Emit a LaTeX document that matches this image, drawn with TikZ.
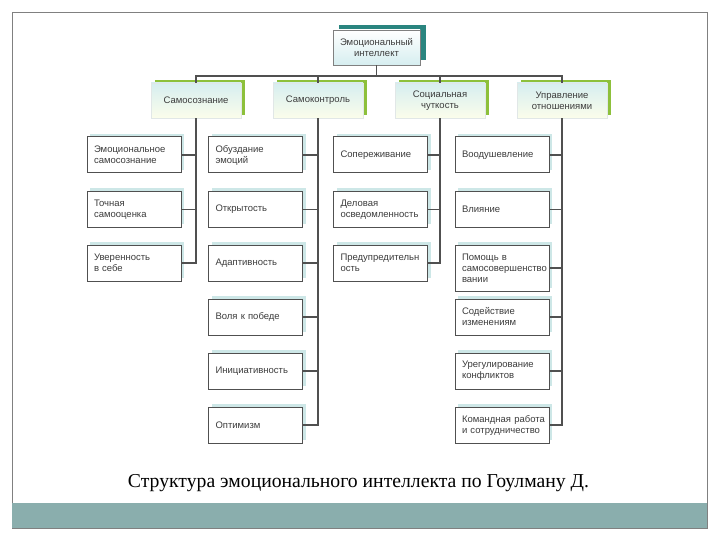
\documentclass[tikz,border=0pt]{standalone}
\usepackage{fontspec}
\setmainfont{Liberation Serif}
\newfontfamily\boxfont{Liberation Sans}
\usetikzlibrary{shadows}

\definecolor{linegray}{HTML}{505050}
\definecolor{framegray}{HTML}{808080}
\definecolor{bandteal}{HTML}{8AAEAD}
\definecolor{darkteal}{HTML}{2A857F}
\definecolor{leafgreen}{HTML}{8DC03B}
\definecolor{paleteal}{HTML}{CDE7E7}
\definecolor{paleblue}{HTML}{D6EEF0}
\definecolor{palecream}{HTML}{FBFDEB}
\definecolor{textgray}{HTML}{3C3C3C}

\tikzset{
  headbox/.style={draw=framegray, line width=0.8pt, top color=white, bottom color=paleblue,
    minimum width=87pt, minimum height=35pt, align=center, text=textgray,
    font=\boxfont\fontsize{9.5}{11}\selectfont,
    general shadow={fill=darkteal, shadow xshift=6pt, shadow yshift=5pt}},
  groupbox/.style={draw=paleblue!60!gray!40, line width=0.4pt, top color=paleblue, bottom color=palecream,
    minimum width=90pt, minimum height=35pt, align=center, text=textgray,
    font=\boxfont\fontsize{9.5}{11}\selectfont,
    general shadow={fill=leafgreen, shadow xshift=4pt, shadow yshift=3pt}},
  itembox/.style={draw=linegray, line width=1pt, fill=white,
    text width=80pt, inner xsep=7pt, minimum height=36pt, align=left, text=textgray,
    font=\boxfont\fontsize{9.5}{11}\selectfont,
    general shadow={fill=paleteal, shadow xshift=3pt, shadow yshift=3pt}},
  link/.style={draw=linegray, line width=1.8pt}
}

\begin{document}
\begin{tikzpicture}[x=1pt,y=-1pt]
  \useasboundingbox (0,0) rectangle (720,540);
  \draw[framegray, line width=0.8pt] (12,12) rectangle (707,528);
  \fill[bandteal] (12,503) rectangle (707,528);

  % top
  \node[headbox] (ei) at (376.5,47.5) {Эмоциональный\\интеллект};

  % groups
  \node[groupbox] (aware) at (196,100.5) {Самосознание};
  \node[groupbox] (control) at (318,100.5) {Самоконтроль};
  \node[groupbox] (social) at (440,100.5) {Социальная\\чуткость};
  \node[groupbox] (relate) at (562,100.5) {Управление\\отношениями};

  % items
  \node[itembox] (aware1) at (134,155) {Эмоциональное\\самосознание};
  \node[itembox] (aware2) at (134,209.5) {Точная\\самооценка};
  \node[itembox] (aware3) at (134,263) {Уверенность\\в себе};

  \node[itembox] (control1) at (255.5,155) {Обуздание\\эмоций};
  \node[itembox] (control2) at (255.5,209.5) {Открытость};
  \node[itembox] (control3) at (255.5,263) {Адаптивность};
  \node[itembox] (control4) at (255.5,317) {Воля к победе};
  \node[itembox] (control5) at (255.5,371) {Инициативность};
  \node[itembox] (control6) at (255.5,425) {Оптимизм};

  \node[itembox] (social1) at (380.5,155) {Сопереживание};
  \node[itembox] (social2) at (380.5,209.5) {Деловая\\осведомленность};
  \node[itembox] (social3) at (380.5,263) {Предупредительн\\ость};

  \node[itembox] (relate1) at (502,155) {Воодушевление};
  \node[itembox] (relate2) at (502,209.5) {Влияние};
  \node[itembox, minimum height=46pt] (relate3) at (502,268) {Помощь в\\самосовершенство\\вании};
  \node[itembox] (relate4) at (502,317) {Содействие\\изменениям};
  \node[itembox] (relate5) at (502,371) {Урегулирование\\конфликтов};
  \node[itembox] (relate6) at (502,425) {\mbox{Командная работа}\\и сотрудничество};

  % connectors
  \draw[link] (ei.south) -- ++(0,11) coordinate (bus);
  \foreach \g in {aware,control,social,relate}
    \draw[link] (bus) -| (\g.north);
  \foreach \i in {1,2,3}
    \draw[link] (aware.south) |- (aware\i.east);
  \foreach \i in {1,...,6}
    \draw[link] (control.south) |- (control\i.east);
  \foreach \i in {1,2,3}
    \draw[link] (social.south) |- (social\i.east);
  \foreach \i in {1,...,6}
    \draw[link] (relate.south) |- (relate\i.east);

  \node (caption) at (358.5,483) {\fontsize{19.7}{22}\selectfont Структура эмоционального интеллекта по Гоулману Д.};
\end{tikzpicture}
\end{document}
